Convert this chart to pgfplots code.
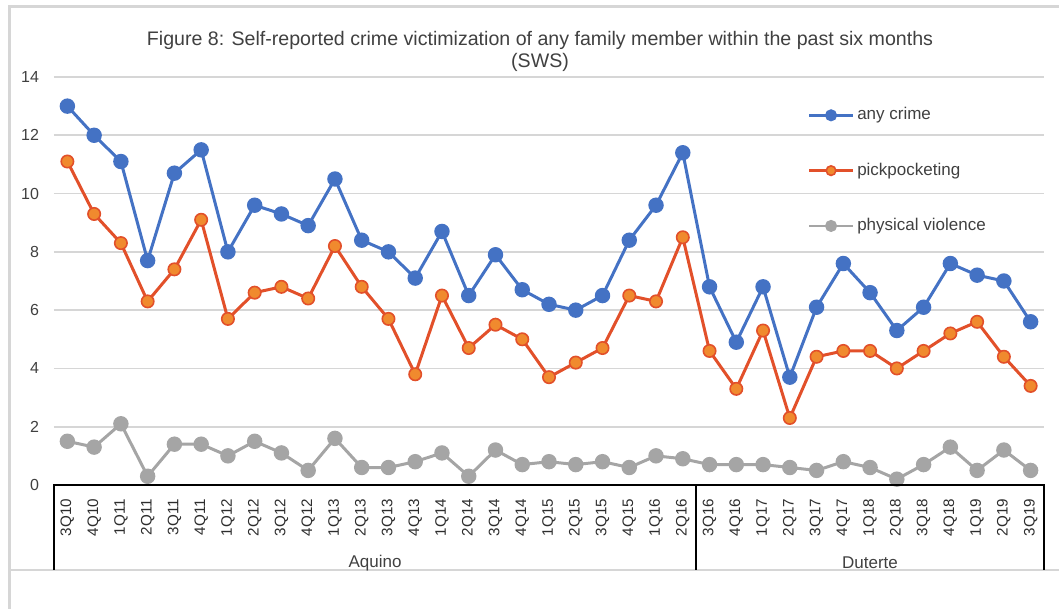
\documentclass[border=0pt]{standalone}
\usepackage{pgfplots}
\pgfplotsset{compat=1.18}
\usepackage{pgfplotstable}
\usepackage{fontspec}
\setmainfont{Liberation Sans}

\definecolor{anyc}{HTML}{4472C4}
\definecolor{pickl}{HTML}{E2502A}
\definecolor{pickf}{HTML}{F08A2E}
\definecolor{physc}{HTML}{A5A5A5}
\definecolor{txt}{HTML}{404040}
\definecolor{framec}{HTML}{D6D6D6}

% quarter index, any crime, pickpocketing, physical violence (%)
\pgfplotstableread{
q  any  pick phys
0  13.0 11.1 1.5
1  12.0 9.3  1.3
2  11.1 8.3  2.1
3  7.7  6.3  0.3
4  10.7 7.4  1.4
5  11.5 9.1  1.4
6  8.0  5.7  1.0
7  9.6  6.6  1.5
8  9.3  6.8  1.1
9  8.9  6.4  0.5
10 10.5 8.2  1.6
11 8.4  6.8  0.6
12 8.0  5.7  0.6
13 7.1  3.8  0.8
14 8.7  6.5  1.1
15 6.5  4.7  0.3
16 7.9  5.5  1.2
17 6.7  5.0  0.7
18 6.2  3.7  0.8
19 6.0  4.2  0.7
20 6.5  4.7  0.8
21 8.4  6.5  0.6
22 9.6  6.3  1.0
23 11.4 8.5  0.9
24 6.8  4.6  0.7
25 4.9  3.3  0.7
26 6.8  5.3  0.7
27 3.7  2.3  0.6
28 6.1  4.4  0.5
29 7.6  4.6  0.8
30 6.6  4.6  0.6
31 5.3  4.0  0.2
32 6.1  4.6  0.7
33 7.6  5.2  1.3
34 7.2  5.6  0.5
35 7.0  4.4  1.2
36 5.6  3.4  0.5
}\crime

\begin{document}
\begin{tikzpicture}
\begin{axis}[
    scale only axis,
    width=495pt, height=204pt,
    xmin=-0.5, xmax=36.5,
    ymin=0, ymax=14,
    ytick={0,2,...,14},
    xtick={0,...,36},
    xticklabels={3Q10,4Q10,1Q11,2Q11,3Q11,4Q11,1Q12,2Q12,3Q12,4Q12,1Q13,2Q13,3Q13,4Q13,1Q14,2Q14,3Q14,4Q14,1Q15,2Q15,3Q15,4Q15,1Q16,2Q16,3Q16,4Q16,1Q17,2Q17,3Q17,4Q17,1Q18,2Q18,3Q18,4Q18,1Q19,2Q19,3Q19},
    x tick label style={rotate=90, anchor=east, font=\fontsize{7.6}{8}\selectfont, text=txt!70!black, xshift=-3.5pt},
    y tick label style={font=\fontsize{8}{9}\selectfont, text=txt, xshift=-4pt},
    /pgf/number format/assume math mode=true,
    major tick length=0pt,
    axis line style={draw=none},
    ymajorgrids=true,
    grid style={framec, line width=0.8pt},
    clip=false,
    legend cell align=left,
    legend style={draw=none, fill=none, at={(0.755,0.943)}, anchor=north west,
        font=\fontsize{8.5}{10}\selectfont, text=txt, row sep=17pt,
        nodes={inner sep=1.5pt}},
    legend image code/.code={\draw[line width=1.2pt, mark size=2.4pt, mark repeat=2, mark phase=2] plot coordinates {(0pt,0pt) (11pt,0pt) (22pt,0pt)};},
    every axis plot/.append style={line width=1.5pt, mark=*, mark size=3.1pt},
]
\addplot[color=anyc, mark options={fill=anyc, draw=anyc}] table[x=q, y=any] {\crime};
\addlegendentry{any crime}
\addplot[color=pickl, mark options={fill=pickf, draw=pickl, line width=0.8pt}] table[x=q, y=pick] {\crime};
\addlegendentry{pickpocketing}
\addplot[color=physc, mark options={fill=physc, draw=physc}] table[x=q, y=phys] {\crime};
\addlegendentry{physical violence}
\end{axis}
\begin{scope}[x=0.5pt, y=-0.5pt, shift={(-27pt,242.5pt)}]
  \useasboundingbox (0,0) rectangle (1059,609);
  % outer frame
  \draw[framec, line width=1.5pt] (10,609) -- (10,7) -- (1059,7);
  \draw[framec, line width=1pt] (10,570) -- (1059,570);
  % category box
  \draw[black, line width=1pt] (54,570) -- (54,485) -- (1044,485) -- (1044,570);
  \draw[black, line width=1pt] (696,485) -- (696,570);
  \node[font=\fontsize{8.5}{10}\selectfont, text=txt] at (375,563) {Aquino};
  \node[font=\fontsize{8.5}{10}\selectfont, text=txt] at (870,563) {Duterte};
  % title
  \node[font=\fontsize{9.8}{11}\selectfont, text=txt, align=center] at (540,51)
    {Figure 8: Self-reported crime victimization of any family member within the past six months\\(SWS)};
\end{scope}
\end{tikzpicture}
\end{document}
